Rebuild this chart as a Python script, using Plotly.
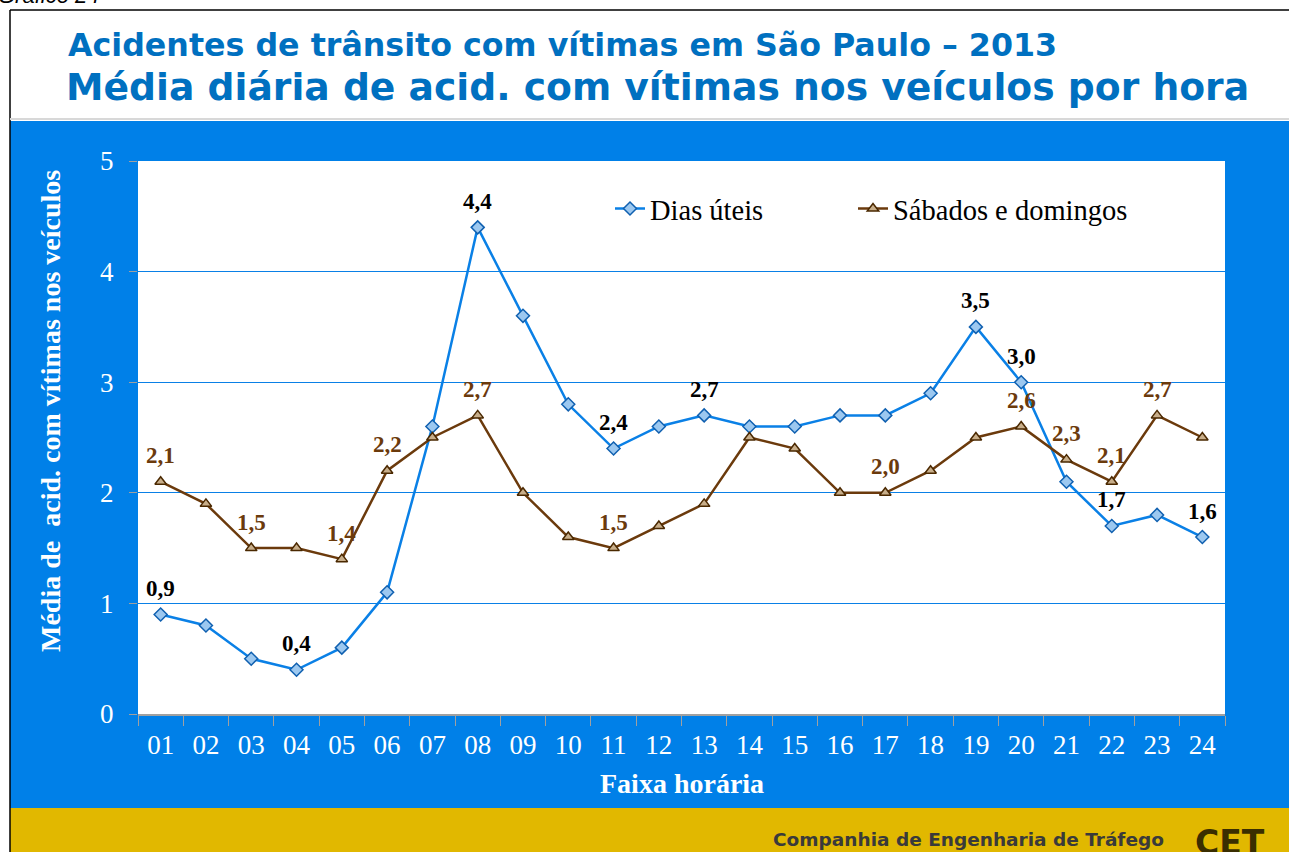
import plotly.graph_objects as go

horas = ["01","02","03","04","05","06","07","08","09","10","11","12",
         "13","14","15","16","17","18","19","20","21","22","23","24"]
dias_uteis = [0.9,0.8,0.5,0.4,0.6,1.1,2.6,4.4,3.6,2.8,2.4,2.6,
              2.7,2.6,2.6,2.7,2.7,2.9,3.5,3.0,2.1,1.7,1.8,1.6]
sab_dom = [2.1,1.9,1.5,1.5,1.4,2.2,2.5,2.7,2.0,1.6,1.5,1.7,
           1.9,2.5,2.4,2.0,2.0,2.2,2.5,2.6,2.3,2.1,2.7,2.5]
rotulos_uteis = ["01","04","08","11","13","19","20","22","24"]
rotulos_sab = ["01","03","05","06","08","11","17","20","21","22","23"]

W, H = 1289, 852
L, R, T, B = 138, 1225, 161, 714

def px(x):
    return (x - L) / (R - L)

def py(y):
    return (B - y) / (B - T)

BLUE = "#0A80E6"
BROWN = "#6B3A0C"
PANEL = "#0080E8"
GOLD = "#E1B800"
TITLE = "#0070C0"
SERIF = "Liberation Serif"

fig = go.Figure()
fig.add_trace(go.Scatter(
    x=horas, y=dias_uteis, name="Dias úteis", mode="lines+markers",
    line=dict(color=BLUE, width=2.5),
    marker=dict(symbol="diamond", size=10, color="#9CC8F0",
                line=dict(color="#1060B0", width=1.5)),
    legend="legend"))
fig.add_trace(go.Scatter(
    x=horas, y=sab_dom, name="Sábados e domingos", mode="lines+markers",
    line=dict(color=BROWN, width=2.5),
    marker=dict(symbol="triangle-up", size=10, color="#C8AE8A",
                line=dict(color="#4A2800", width=1.5)),
    legend="legend2"))

def fmt(v):
    return f"{v:.1f}".replace(".", ",")

annotations = []
for h in rotulos_uteis:
    i = horas.index(h)
    annotations.append(dict(x=i, y=dias_uteis[i], xref="x", yref="y",
                            text=f"<b>{fmt(dias_uteis[i])}</b>",
                            showarrow=False, yshift=26,
                            font=dict(family=SERIF, size=23, color="black")))
for h in rotulos_sab:
    i = horas.index(h)
    annotations.append(dict(x=i, y=sab_dom[i], xref="x", yref="y",
                            text=f"<b>{fmt(sab_dom[i])}</b>",
                            showarrow=False, yshift=26,
                            font=dict(family=SERIF, size=23, color=BROWN)))

annotations += [
    dict(x=px(66), y=py(45), xref="paper", yref="paper", xanchor="left", yanchor="middle",
         text="<b>Acidentes de trânsito com vítimas em São Paulo – 2013</b>", showarrow=False,
         font=dict(family="DejaVu Sans", size=31.7, color=TITLE)),
    dict(x=px(64), y=py(87), xref="paper", yref="paper", xanchor="left", yanchor="middle",
         text="<b>Média diária de acid. com vítimas nos veículos por hora</b>", showarrow=False,
         font=dict(family="DejaVu Sans", size=37.7, color=TITLE)),
    dict(x=px(-4), y=py(-5), xref="paper", yref="paper", xanchor="left", yanchor="middle",
         text="<i>Gráfico 24</i>", showarrow=False,
         font=dict(family="Liberation Sans", size=22, color="black")),
    dict(x=px(50), y=py(411), xref="paper", yref="paper", xanchor="center", yanchor="middle",
         text="<b>Média de  acid. com vítimas nos veículos</b>", showarrow=False, textangle=-90,
         font=dict(family=SERIF, size=28, color="white")),
    dict(x=px(682), y=py(783), xref="paper", yref="paper", xanchor="center", yanchor="middle",
         text="<b>Faixa horária</b>", showarrow=False,
         font=dict(family=SERIF, size=28, color="white")),
    dict(x=px(1166), y=py(840), xref="paper", yref="paper", xanchor="right", yanchor="middle",
         text="<b>Companhia de Engenharia de Tráfego</b>", showarrow=False,
         font=dict(family="DejaVu Sans", size=18.5, color="#3A3A3A")),
    dict(x=px(1193), y=py(842), xref="paper", yref="paper", xanchor="left", yanchor="middle",
         text="<b>CET</b>", showarrow=False,
         font=dict(family="DejaVu Sans", size=33, color="#3A2E00")),
]

shapes = [
    dict(type="rect", xref="paper", yref="paper", x0=px(10), x1=px(W + 5), y0=py(121), y1=py(808),
         fillcolor=PANEL, line=dict(width=0), layer="below"),
    dict(type="rect", xref="paper", yref="paper", x0=px(10), x1=px(W + 5), y0=py(808), y1=py(H + 5),
         fillcolor=GOLD, line=dict(width=0), layer="below"),
    dict(type="rect", xref="paper", yref="paper", x0=0, x1=1, y0=0, y1=1,
         fillcolor="white", line=dict(width=0), layer="below"),
    dict(type="line", xref="paper", yref="paper", x0=px(10), x1=px(W + 5), y0=py(10), y1=py(10),
         line=dict(color="black", width=1.5)),
    dict(type="line", xref="paper", yref="paper", x0=px(10), x1=px(10), y0=py(10), y1=py(H + 5),
         line=dict(color="black", width=1.5)),
    dict(type="line", xref="paper", yref="paper", x0=px(10), x1=px(W + 5), y0=py(119), y1=py(119),
         line=dict(color="#D8D8D8", width=2)),
]

fig.update_layout(
    width=W, height=H,
    margin=dict(l=L, r=W - R, t=T, b=H - B, pad=0),
    paper_bgcolor="white", plot_bgcolor="white",
    showlegend=True,
    legend=dict(x=px(610), y=py(209), xanchor="left", yanchor="middle",
                bgcolor="rgba(0,0,0,0)", itemwidth=30,
                font=dict(family=SERIF, size=28.5, color="black")),
    legend2=dict(x=px(853), y=py(209), xanchor="left", yanchor="middle",
                 bgcolor="rgba(0,0,0,0)", itemwidth=30,
                 font=dict(family=SERIF, size=28.5, color="black")),
    annotations=annotations,
    shapes=shapes,
    xaxis=dict(type="category", tickson="boundaries", ticks="outside", ticklen=10,
               tickcolor="#A0A0A0", showline=True, linecolor="#A0A0A0", linewidth=1.5,
               showgrid=False, range=[-0.5, 23.5], ticklabelstandoff=6,
               tickfont=dict(family=SERIF, size=27, color="white")),
    yaxis=dict(range=[0, 5], dtick=1, ticks="outside", ticklen=8, tickcolor="#A0A0A0",
               showgrid=True, gridcolor=BLUE, gridwidth=1, zeroline=False, showline=False,
               tickfont=dict(family=SERIF, size=27, color="white"),
               ticklabelstandoff=10),
)

fig.write_html("out.html", config={"displayModeBar": False},
               post_script="document.body.style.margin='0';")
